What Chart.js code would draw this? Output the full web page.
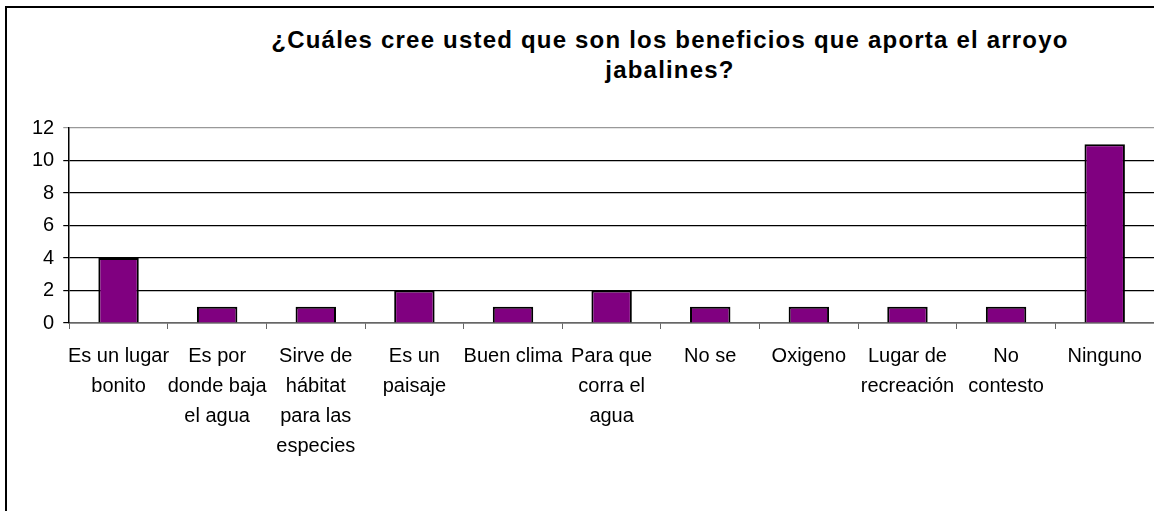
<!DOCTYPE html>
<html>
<head>
<meta charset="utf-8">
<script src="https://cdn.jsdelivr.net/npm/chart.js@4/dist/chart.umd.min.js"></script>
<style>
  html, body { margin: 0; padding: 0; background: #fff; overflow: hidden; }
  #marco { position: absolute; left: 5px; top: 6px; width: 1300px; height: 700px; border: 2px solid #000; }
  #titulo {
    position: absolute; left: 270px; width: 800px; top: 25px;
    font: bold 24px "Liberation Sans", Arial, sans-serif; line-height: 30px;
    letter-spacing: 1.2px;
    text-align: center; color: #000;
  }
  #lienzo { position: absolute; left: 0; top: 0; }
</style>
</head>
<body>
<div id="marco"></div>
<div id="titulo">¿Cuáles cree usted que son los beneficios que aporta el arroyo<br>jabalines?</div>
<canvas id="lienzo" width="1154" height="511"></canvas>
<script>
const categorias = [
    ['Es un lugar', 'bonito'],
    ['Es por', 'donde baja', 'el agua'],
    ['Sirve de', 'hábitat', 'para las', 'especies'],
    ['Es un', 'paisaje'],
    ['Buen clima'],
    ['Para que', 'corra el', 'agua'],
    ['No se'],
    ['Oxigeno'],
    ['Lugar de', 'recreación'],
    ['No', 'contesto'],
    ['Ninguno'],
];
const valores = [4, 1, 1, 2, 1, 2, 1, 1, 1, 1, 11];
const ticksY = [0, 2, 4, 6, 8, 10, 12];

const fuente = { family: '"Liberation Sans", Arial, sans-serif', size: 20, lineHeight: 1.5 };

new Chart(document.getElementById('lienzo'), {
    type: 'bar',
    data: {
        labels: categorias,
        datasets: [{
            data: valores,
            backgroundColor: '#800080',
            borderColor: '#000',
            borderWidth: 2,
            barPercentage: 0.41,
            categoryPercentage: 1,
        }],
    },
    options: {
        responsive: false,
        animation: false,
        layout: { padding: { left: 23, right: 0, top: 128, bottom: 38 } },
        plugins: {
            legend: { display: false },
            title: { display: false },
            tooltip: { enabled: false },
        },
        scales: {
            x: {
                offset: true,
                grid: {
                    offset: true,
                    drawOnChartArea: false,
                    drawTicks: true,
                    tickLength: 6,
                    color: '#666',
                },
                border: { color: '#666', width: 1.5 },
                ticks: {
                    color: '#000',
                    font: fuente,
                    autoSkip: false,
                    maxRotation: 0,
                    minRotation: 0,
                    padding: 12,
                },
            },
            y: {
                min: 0,
                max: 12,
                afterBuildTicks: (eje) => {
                    eje.ticks = ticksY.map(v => ({ value: v }));
                },
                grid: {
                    color: (c) => (c.tick && c.tick.value === 12 ? '#999' : '#000'),
                    lineWidth: 1.2,
                    tickLength: 6,
                    drawTicks: true,
                },
                border: { color: '#000', width: 1.5 },
                ticks: {
                    color: '#000',
                    font: fuente,
                    padding: 9,
                    autoSkip: false,
                },
            },
        },
    },
});
</script>
</body>
</html>
